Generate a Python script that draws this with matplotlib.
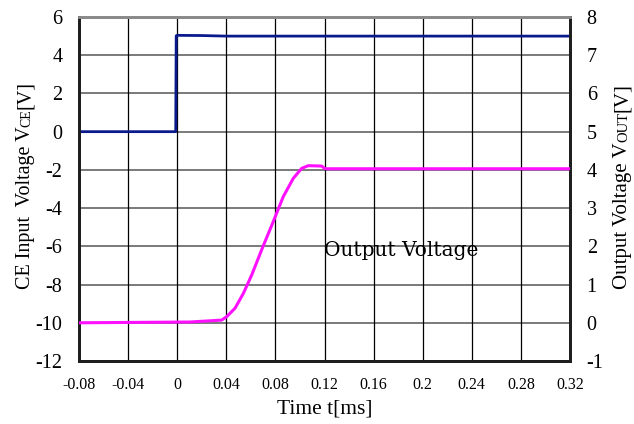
import matplotlib
matplotlib.use("Agg")
import matplotlib.pyplot as plt
import numpy as np

plt.rcParams['font.family'] = ['Liberation Serif', 'DejaVu Serif']

# CE input voltage (left axis), time in ms
t_ce = [-0.08, -0.0012, -0.0008, 0.0, 0.02, 0.04, 0.32]
v_ce = [0.0, 0.0, 5.02, 5.04, 5.03, 5.0, 5.0]

# Output voltage (right axis), time in ms
t_out = [-0.08, 0.0104, 0.0363, 0.0403, 0.0471, 0.0539, 0.0607, 0.0688,
         0.0783, 0.0864, 0.0946, 0.1014, 0.1068, 0.1177, 0.1204, 0.32]
v_out = [0.0, 0.02, 0.07, 0.16, 0.38, 0.77, 1.25, 1.91,
         2.65, 3.30, 3.78, 4.04, 4.11, 4.10, 4.03, 4.03]

x_ticks = [-0.08, -0.04, 0, 0.04, 0.08, 0.12, 0.16, 0.2, 0.24, 0.28, 0.32]
x_labels = ['-0.08', '-0.04', '0', '0.04', '0.08', '0.12', '0.16', '0.2',
            '0.24', '0.28', '0.32']
left_ticks = [-12, -10, -8, -6, -4, -2, 0, 2, 4, 6]
right_ticks = [-1, 0, 1, 2, 3, 4, 5, 6, 7, 8]

W, H = 634, 424
fig = plt.figure(figsize=(W / 100, H / 100), dpi=100)
ax = fig.add_axes([79 / W, 1 - 361 / H, (570 - 79) / W, (361 - 17) / H])
ax2 = ax.twinx()

ax.set_xlim(-0.08, 0.32)
ax.set_ylim(-12, 6)
ax2.set_ylim(-1, 8)

# grid: gray horizontal, black vertical
for y in left_ticks:
    ax.axhline(y, color='#7a7a7a', lw=1.4, zorder=1)
for x in x_ticks:
    ax.axvline(x, color='black', lw=0.9, zorder=1)

ax.plot(t_ce, v_ce, color='#0a1a8c', lw=2.0, zorder=3)
ax2.plot(t_out, v_out, color='#ff10ff', lw=2.2, zorder=3)

ax.set_xticks(x_ticks)
ax.set_xticklabels(x_labels, fontsize=11.5)
ax.set_yticks(left_ticks)
ax.set_yticklabels([str(v) for v in left_ticks], fontsize=14.5)
ax2.set_yticks(right_ticks)
ax2.set_yticklabels([str(v) for v in right_ticks], fontsize=14.5)
ax.tick_params(axis='x', length=0, pad=11.5)
ax.tick_params(axis='y', length=0, pad=12)
ax2.tick_params(axis='y', length=0, pad=12)

for a in (ax, ax2):
    for s in ('left', 'bottom', 'right'):
        a.spines[s].set_color('#1e1e1e')
        a.spines[s].set_linewidth(2.0)
    a.spines['top'].set_color('#8a8a8a')
    a.spines['top'].set_linewidth(2.0)

ax.set_xlabel('Time t[ms]', fontsize=15.5, labelpad=5)

ax2.text(0.12, 1.9, 'Output Voltage', fontsize=14.5, ha='left', va='center',
         family='DejaVu Serif', zorder=4)

# rotated axis labels with small-caps style subscripts on the baseline
fig.canvas.draw()
renderer = fig.canvas.get_renderer()


def stacked_label(x_px, y_px, pieces):
    y = y_px
    for txt, size in pieces:
        t = fig.text(x_px / W, 1 - y / H, txt, fontsize=size, rotation=90,
                     rotation_mode='anchor', ha='left', va='baseline')
        bb = t.get_window_extent(renderer)
        y -= bb.height


def label_length(pieces):
    total = 0
    for txt, size in pieces:
        t = fig.text(0, 0, txt, fontsize=size, rotation=90)
        total += t.get_window_extent(renderer).height
        t.remove()
    return total


left_pieces = [('CE Input  Voltage V', 14.5), ('CE', 10), ('[V]', 14.5)]
right_pieces = [('Output Voltage V', 15), ('OUT', 10.5), ('[V]', 15)]

L = label_length(left_pieces)
stacked_label(30, 185 + L / 2, left_pieces)
R = label_length(right_pieces)
stacked_label(627, 186 + R / 2, right_pieces)

fig.savefig('out.png', dpi=100)
